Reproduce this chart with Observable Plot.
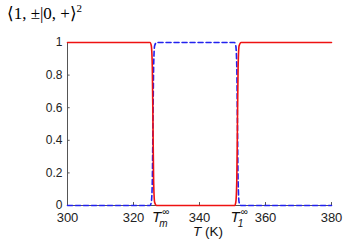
<!DOCTYPE html>
<html><head><meta charset="utf-8">
<script src="https://cdn.jsdelivr.net/npm/d3@7"></script>
<script src="https://cdn.jsdelivr.net/npm/@observablehq/plot@0.6"></script>
<style>
body{margin:0;background:#fff;}
#wrap{position:relative;width:345px;height:245px;}
#title{position:absolute;left:7px;top:2px;font-family:"Liberation Serif","DejaVu Serif",serif;font-size:17px;color:#000;white-space:nowrap;}
#title sup{font-size:11px;}
</style>
</head><body>
<div id="wrap"><div id="title">⟨1, ±|0, +⟩<sup>2</sup></div></div>
<script>
const T =     [300, 325.0, 325.4, 325.7, 325.9, 326.1, 326.4, 327.0, 350.6, 351.0, 351.3, 351.5, 351.7, 352.0, 352.6, 380];
const red =   [1,   1,     0.98,  0.85,  0.5,   0.15,  0.02,  0,     0,     0.02,  0.15,  0.5,   0.85,  0.98,  1,     1];
const blue =  [0,   0,     0.02,  0.15,  0.5,   0.85,  0.98,  1,     1,     0.98,  0.85,  0.5,   0.15,  0.02,  0,     0];
const xTicks = [300, 320, 340, 360, 380];
const yTicks = [0, 0.2, 0.4, 0.6, 0.8, 1];
const yTickLabels = ["0", "0.2", "0.4", "0.6", "0.8", "1"];
const tempLabels = [{T: 325.6, name: "m"}, {T: 349.4, name: "1"}];

const redData = T.map((t, i) => ({T: t, v: red[i]}));
const blueData = T.map((t, i) => ({T: t, v: blue[i]}));

const chart = Plot.plot({
  width: 345, height: 245,
  marginLeft: 67, marginRight: 14, marginTop: 42, marginBottom: 40,
  style: {fontFamily: "Liberation Sans, Arial, sans-serif", fontSize: "12px", background: "white"},
  x: {domain: [300, 380], axis: null},
  y: {domain: [0, 1], axis: null},
  marks: [
    Plot.ruleY([0], {stroke: "#555", strokeWidth: 1}),
    Plot.ruleX([300], {stroke: "#555", strokeWidth: 1}),
    Plot.ruleX(xTicks, {x: d => d, y1: 0, y2: 0.018, stroke: "#555"}),
    Plot.ruleY(yTicks, {y: d => d, x1: 300, x2: 300.8, stroke: "#555"}),
    Plot.text(xTicks, {x: d => d, y: 0, dy: 12, text: d => String(d), fontSize: 13, fill: "#222"}),
    Plot.text(yTicks, {x: 300, y: d => d, dx: -5, text: (d, i) => yTickLabels[i], textAnchor: "end", fontSize: 12, fill: "#222"}),
    Plot.line(blueData, {x: "T", y: "v", stroke: "#2222ee", strokeWidth: 1.6, strokeDasharray: "5,3", curve: "monotone-x"}),
    Plot.line(redData, {x: "T", y: "v", stroke: "#ee1111", strokeWidth: 1.6, curve: "monotone-x"}),
    Plot.text(tempLabels, {x: "T", y: 0, dy: 12, text: () => "T", fontStyle: "italic", fontSize: 15, fill: "#111", textAnchor: "start", ariaLabel: "templabel"})
  ]
});
document.getElementById("wrap").prepend(chart);
const svg = d3.select(chart);
// add sub/superscripts to the temperature labels as tspans of the same text element
svg.selectAll("text").filter(function() { return this.textContent === "T" && this.getAttribute("font-style") !== null || (this.textContent === "T" && this.closest("g") && this.closest("g").getAttribute("font-style") === "italic"); })
  .each(function(d, i) {
    const lab = tempLabels[i];
    if (!lab) return;
    const t = d3.select(this);
    t.append("tspan").attr("font-style", "normal").attr("font-size", 10).attr("dx", 1).attr("dy", -7).text("∞");
    t.append("tspan").attr("font-size", 10).attr("dx", -10).attr("dy", 12).text(lab.name);
  });
const xl = svg.append("text").attr("x", 208).attr("y", 236).attr("text-anchor", "middle")
  .attr("font-size", 13.5).attr("font-family", "Liberation Sans, Arial, sans-serif").attr("fill", "#111");
xl.append("tspan").attr("font-style", "italic").text("T");
xl.append("tspan").text(" (K)");
</script>
</body></html>
